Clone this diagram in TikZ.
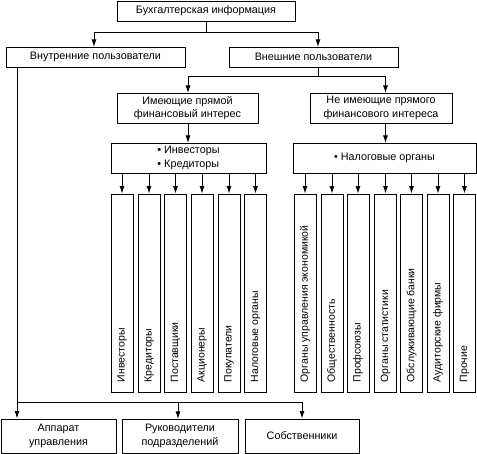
\documentclass[tikz,border=0pt]{standalone}
\usepackage{fontspec}
\setmainfont{Liberation Sans}
\usetikzlibrary{arrows.meta,calc}
\tikzset{
  box/.style={draw, line width=0.9pt, inner sep=1pt, align=center, font=\fontsize{10.8}{13.5}\selectfont},
  colbox/.style={draw, line width=0.9pt, minimum height=198pt, inner sep=0pt},
  coltext/.style={rotate=90, anchor=west, inner sep=0pt, font=\fontsize{10.5}{12}\selectfont},
  conn/.style={line width=0.9pt},
  arr/.style={line width=0.9pt, -{Latex[length=7.5pt,width=5pt]}}
}
\begin{document}
\begin{tikzpicture}[x=1pt,y=-1pt]
\useasboundingbox (0,0) rectangle (477,454);
% top levels
\node[box, minimum width=178pt, minimum height=20pt] (top) at (206,11) {Бухгалтерская информация};
\node[box, minimum width=179pt, minimum height=20pt] (int) at (95.5,57) {Внутренние пользователи};
\node[box, minimum width=169pt, minimum height=20pt] (ext) at (313.5,57) {Внешние пользователи};
\node[box, minimum width=141pt, minimum height=30pt] (dir) at (187.5,108) {Имеющие прямой\\финансовый интерес};
\node[box, minimum width=142pt, minimum height=30pt] (ind) at (381,108) {Не имеющие прямого\\финансового интереса};
\node[box, minimum width=155pt, minimum height=30pt, align=left] (bl) at (188.5,158) {• Инвесторы\\• Кредиторы};
\node[box, minimum width=183pt, minimum height=30pt] (br) at (384.5,158) {• Налоговые органы};
% bottom
\node[box, minimum width=115pt, minimum height=34pt] (app) at (58.5,436) {Аппарат\\управления};
\node[box, minimum width=116pt, minimum height=34pt] (ruk) at (180,436) {Руководители\\подразделений};
\node[box, minimum width=114pt, minimum height=34pt] (sob) at (302,436) {Собственники};
% left columns
\foreach \n/\x/\t in {l1/122/Инвесторы, l2/149/Кредиторы, l3/175.5/Поставщики, l4/202/Акционеры, l5/229/Покупатели, l6/255.5/Налоговые органы}{
  \node[colbox, minimum width=22pt] (\n) at (\x,293) {};
  \node[coltext] (\n t) at ([yshift=10pt]\n.south) {\t};
  \draw[arr] (\n.north |- bl.south) -- (\n.north);
}
% right columns
\foreach \n/\x/\t in {r1/305/Органы управления экономикой, r2/332/Общественность, r3/358/Профсоюзы, r4/385.5/Органы статистики, r5/411.5/Обслуживающие банки, r6/438/Аудиторские фирмы, r7/464.5/Прочие}{
  \node[colbox, minimum width=22pt] (\n) at (\x,293) {};
  \node[coltext] (\n t) at ([yshift=10pt]\n.south) {\t};
  \draw[arr] (\n.north |- br.south) -- (\n.north);
}
% connectors top
\coordinate (j1) at (206.5,32);
\draw[conn] (top.south -| j1) -- (j1);
\draw[arr] (j1) -| (94,47);
\draw[arr] (j1) -| (318,47);
\coordinate (j2) at (318,76);
\draw[conn] (318,67) -- (j2);
\draw[arr] (j2) -| (188,93);
\draw[arr] (j2) -| (385.5,93);
\draw[arr] (188,123) -- (188,143);
\draw[arr] (385.5,123) -- (385.5,143);
% internal
\coordinate (b1) at (17,402);
\coordinate (b3) at (302,402);
\draw[conn] (17,67) -- (b1) -- (b3);
\draw[arr] (b1) -- (b1 |- app.north);
\draw[arr] (178,402) -- (178,419);
\draw[arr] (b3) -- (b3 |- sob.north);
\end{tikzpicture}
\end{document}
